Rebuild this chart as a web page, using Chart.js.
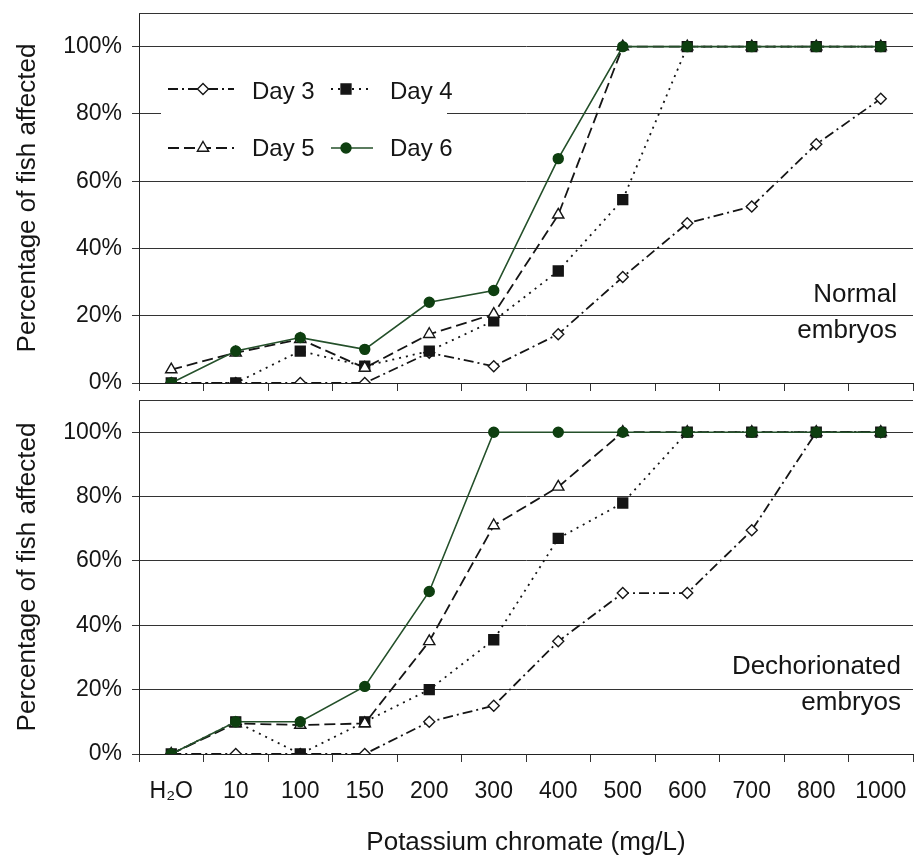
<!DOCTYPE html>
<html>
<head>
<meta charset="utf-8">
<script src="https://cdn.jsdelivr.net/npm/chart.js@4/dist/chart.umd.min.js"></script>
<style>
  html, body { margin: 0; padding: 0; background: #fff; }
  #wrap { position: relative; width: 914px; height: 856px; }
  canvas { position: absolute; left: 0; }
  #normal { top: 0; }
  #dechor { top: 392px; }
</style>
</head>
<body>
<div id="wrap">
  <canvas id="normal" width="914" height="395"></canvas>
  <canvas id="dechor" width="914" height="464"></canvas>
</div>
<script>
"use strict";

// ---- data (percent of fish affected) ----
const concentrations = ["H\u2082O", "10", "100", "150", "200", "300", "400", "500", "600", "700", "800", "1000"];
const seriesNames = ["Day 3", "Day 4", "Day 5", "Day 6"];

const normalDay3 = [0, 0, 0, 0, 9, 5, 14.5, 31.5, 47.5, 52.5, 71, 84.5];
const normalDay4 = [0, 0, 9.5, 5, 9.5, 18.5, 33.3, 54.5, 100, 100, 100, 100];
const normalDay5 = [4, 9, 13, 4.5, 14.5, 20.5, 50, 100, 100, 100, 100, 100];
const normalDay6 = [0, 9.5, 13.5, 10, 24, 27.5, 66.7, 100, 100, 100, 100, 100];

const dechorDay3 = [0, 0, 0, 0, 10, 15, 35, 50, 50, 69.5, 100, 100];
const dechorDay4 = [0, 10, 0, 10, 20, 35.5, 67, 78, 100, 100, 100, 100];
const dechorDay5 = [0, 9.5, 9, 9.5, 35, 71, 83, 100, 100, 100, 100, 100];
const dechorDay6 = [0, 10, 10, 21, 50.5, 100, 100, 100, 100, 100, 100, 100];

const yTicks = [0, 20, 40, 60, 80, 100];

// ---- look ----
const FONT = '"Liberation Sans", Arial, Helvetica, sans-serif';
const INK = "#151515";
const GRID = "#333";
const GREEN = "#0e3f10";

Chart.defaults.font.family = FONT;
Chart.defaults.color = INK;

const styles = [
  { borderColor: INK, borderDash: [10, 4, 2, 4], pointStyle: "rectRot", pointRadius: 5.5, pointBackgroundColor: "#fff", order: 3 },
  { borderColor: INK, borderDash: [2, 5], pointStyle: "rect", pointRadius: 7, pointBackgroundColor: INK, order: 2 },
  { borderColor: INK, borderDash: [11, 5], pointStyle: "triangle", pointRadius: 6.5, pointBackgroundColor: "#fff", order: 1 },
  { borderColor: "#24502a", borderDash: [], pointStyle: "circle", pointRadius: 5, pointBackgroundColor: GREEN, order: 0 },
];

// ---- plugins: top frame line, in-plot legend, panel caption ----
const frameTop = {
  id: "frameTop",
  beforeDatasetsDraw(chart) {
    const { ctx, chartArea: a } = chart;
    ctx.save();
    ctx.strokeStyle = GRID;
    ctx.lineWidth = 1;
    ctx.beginPath();
    ctx.moveTo(a.left, Math.round(a.top) + 0.5);
    ctx.lineTo(a.right, Math.round(a.top) + 0.5);
    ctx.stroke();
    ctx.restore();
  },
};

const inLegend = {
  id: "inLegend",
  afterDraw(chart, args, opts) {
    if (!opts.show) return;
    const ctx = chart.ctx;
    const rows = [89, 148], baselines = [99, 156];
    const cols = [{ x0: 168, x1: 234, mx: 203, tx: 252 }, { x0: 331, x1: 373, mx: 346, tx: 390 }];
    ctx.save();
    ctx.fillStyle = "#fff";
    ctx.fillRect(161, 62, 286, 110);
    chart.data.datasets.forEach((ds, i) => {
      const c = cols[i % 2], y = rows[Math.floor(i / 2)];
      ctx.strokeStyle = ds.borderColor;
      ctx.lineWidth = ds.borderWidth;
      ctx.setLineDash(ds.borderDash);
      ctx.beginPath();
      ctx.moveTo(c.x0, y);
      ctx.lineTo(c.x1, y);
      ctx.stroke();
      ctx.setLineDash([]);
      ctx.fillStyle = ds.pointBackgroundColor;
      ctx.strokeStyle = ds.pointBorderColor;
      ctx.lineWidth = ds.pointBorderWidth;
      Chart.helpers.drawPoint(ctx, { pointStyle: ds.pointStyle, radius: ds.pointRadius, rotation: 0, borderWidth: ds.pointBorderWidth }, c.mx, y);
      ctx.fillStyle = INK;
      ctx.font = "24px " + FONT;
      ctx.textBaseline = "alphabetic";
      ctx.textAlign = "left";
      ctx.fillText(ds.label, c.tx, baselines[Math.floor(i / 2)]);
    });
    ctx.restore();
  },
};

const panelNote = {
  id: "panelNote",
  afterDraw(chart, args, opts) {
    const { ctx, chartArea: a } = chart;
    ctx.save();
    ctx.font = "26px " + FONT;
    ctx.fillStyle = INK;
    ctx.textAlign = "right";
    ctx.textBaseline = "alphabetic";
    opts.lines.forEach((t, i) => ctx.fillText(t, a.right - opts.dx, a.bottom - opts.dy[i]));
    ctx.restore();
  },
};

// ---- one panel ----
function makePanel(id, series, cfg) {
  return new Chart(document.getElementById(id), {
    type: "line",
    data: {
      labels: concentrations,
      datasets: series.map((vals, i) => ({
        label: seriesNames[i],
        data: vals,
        ...styles[i],
        borderWidth: i === 3 ? 1.6 : 1.8,
        pointBorderColor: styles[i].borderColor === INK ? INK : GREEN,
        pointBorderWidth: 1.4,
        pointHoverRadius: styles[i].pointRadius,
        tension: 0,
        fill: false,
      })),
    },
    options: {
      responsive: false,
      animation: false,
      layout: { autoPadding: false, padding: { top: cfg.padTop, right: 1, left: 0, bottom: 0 } },
      plugins: {
        legend: { display: false },
        tooltip: { enabled: false },
        inLegend: { show: cfg.legend },
        panelNote: cfg.note,
      },
      scales: {
        x: {
          offset: true,
          grid: { offset: true, drawOnChartArea: false, drawTicks: true, tickLength: 8, color: GRID },
          border: { color: "#222", width: 1 },
          ticks: { display: cfg.xLabels, color: INK, font: { size: 23, lineHeight: 1.2 }, padding: 16, maxRotation: 0, autoSkip: false },
          title: { display: cfg.xLabels, text: "Potassium chromate (mg/L)", color: INK, font: { size: 26, lineHeight: 1 }, padding: 0 },
          afterFit(s) { s.height = cfg.xHeight; s.paddingLeft = 0; s.paddingRight = 0; },
        },
        y: {
          min: 0,
          max: 110,
          afterBuildTicks(s) { s.ticks = yTicks.map((v) => ({ value: v })); },
          ticks: { color: INK, font: { size: 23, lineHeight: 1 }, padding: 10, callback: (v) => v + "%" },
          grid: { color: GRID, lineWidth: 1, tickLength: 7 },
          border: { color: "#222", width: 1 },
          title: { display: true, text: "Percentage of fish affected", color: INK, font: { size: 26 }, padding: { top: 12, bottom: 0 } },
          afterFit(s) { s.width = 139; s.paddingTop = 0; s.paddingBottom = 0; },
        },
      },
    },
    plugins: [frameTop, inLegend, panelNote],
  });
}

makePanel("normal", [normalDay3, normalDay4, normalDay5, normalDay6], {
  padTop: 13, xHeight: 12, xLabels: false, legend: true,
  note: { lines: ["Normal", "embryos"], dx: 16, dy: [81, 45] },
});

makePanel("dechor", [dechorDay3, dechorDay4, dechorDay5, dechorDay6], {
  padTop: 8, xHeight: 102, xLabels: true, legend: false,
  note: { lines: ["Dechorionated", "embryos"], dx: 12, dy: [80, 44] },
});
</script>
</body>
</html>
